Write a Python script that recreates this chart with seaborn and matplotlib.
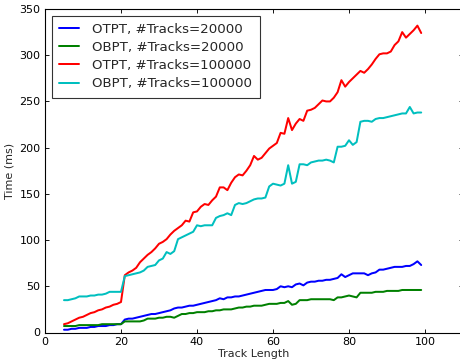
import matplotlib
matplotlib.use("Agg")
import matplotlib.pyplot as plt
import seaborn as sns
import pandas as pd

track_length = list(range(5, 100))

otpt_20000 = [3, 3, 4, 4, 5, 5, 5, 6, 6, 7, 7, 7, 8, 8, 9, 9,
              14, 15, 15, 16, 17, 18, 19, 20, 20, 21, 22, 23, 24, 26, 27, 27, 28, 29, 29, 30,
              31, 32, 33, 34, 35, 37, 36, 38, 38, 39, 39, 40, 41, 42, 43, 44, 45, 46, 46, 46,
              47, 50, 49, 50, 49, 52, 53, 51, 54, 55, 55, 56, 56, 57, 57, 58, 59, 63, 60, 62,
              64, 64, 64, 64, 62, 64, 65, 68, 68, 69, 70, 71, 71, 71, 72, 72, 74, 77, 73]

obpt_20000 = [7, 7, 7, 7, 8, 8, 8, 8, 8, 8, 9, 9, 9, 9, 9, 9,
              12, 12, 12, 12, 12, 13, 15, 15, 15, 16, 16, 17, 17, 16, 18, 20, 20, 21, 21, 22,
              22, 22, 23, 23, 24, 24, 25, 25, 25, 26, 27, 27, 28, 28, 29, 29, 29, 30, 31, 31,
              31, 32, 32, 34, 30, 31, 35, 35, 35, 36, 36, 36, 36, 36, 36, 35, 38, 38, 39, 40,
              39, 38, 43, 43, 43, 43, 44, 44, 44, 45, 45, 45, 45, 46, 46, 46, 46, 46, 46]

otpt_100000 = [9, 10, 12, 14, 16, 17, 19, 21, 22, 24, 25, 27, 28, 30, 31, 33,
               62, 65, 67, 70, 76, 80, 84, 87, 91, 96, 98, 101, 106, 110, 113, 116, 121, 120, 130, 131,
               136, 139, 138, 143, 147, 157, 157, 154, 162, 168, 171, 170, 175, 181, 191, 187, 189, 194, 199, 202,
               205, 216, 215, 232, 219, 226, 231, 229, 240, 241, 243, 247, 251, 250, 250, 254, 260, 273, 266, 271,
               275, 279, 283, 281, 285, 290, 296, 301, 302, 302, 304, 311, 315, 325, 319, 323, 327, 332, 324]

obpt_100000 = [35, 35, 36, 37, 39, 39, 39, 40, 40, 41, 41, 42, 44, 44, 44, 44,
               61, 62, 63, 64, 65, 67, 71, 72, 73, 78, 80, 87, 85, 88, 101, 103, 105, 107, 109, 116,
               115, 116, 116, 116, 124, 126, 127, 129, 127, 138, 140, 139, 140, 142, 144, 145, 145, 146, 158, 161,
               160, 159, 161, 181, 161, 163, 182, 182, 181, 184, 185, 186, 186, 187, 186, 184, 201, 201, 202, 208,
               203, 206, 228, 229, 229, 228, 231, 232, 232, 233, 234, 235, 236, 237, 237, 244, 237, 238, 238]

series_names = ["OTPT, #Tracks=20000", "OBPT, #Tracks=20000",
                "OTPT, #Tracks=100000", "OBPT, #Tracks=100000"]
series_values = [otpt_20000, obpt_20000, otpt_100000, obpt_100000]
colors = ["#0000ff", "#008000", "#ff0000", "#00bfbf"]

rows = []
for name, vals in zip(series_names, series_values):
    for x, v in zip(track_length, vals):
        rows.append({"Track Length": x, "Time (ms)": v, "series": name})
df = pd.DataFrame(rows)

sns.set_style("white", {"xtick.direction": "in", "ytick.direction": "in",
                        "axes.edgecolor": "black"})
plt.rcParams["font.family"] = ["DejaVu Sans"]

fig = plt.figure(figsize=(5.75, 4.5), dpi=80)
ax = fig.add_axes([45 / 460, 1 - 332.5 / 360, 418 / 460, 323.5 / 360])

sns.lineplot(data=df, x="Track Length", y="Time (ms)", hue="series",
             hue_order=series_names, palette=colors, linewidth=1.8, ax=ax)

ax.set_xlim(0, 110)
ax.set_ylim(0, 350)
ax.set_xticks([0, 20, 40, 60, 80, 100])
ax.set_yticks(range(0, 351, 50))
ax.tick_params(axis="both", which="major", direction="in", length=4, width=0.8,
               top=True, right=True, bottom=True, left=True, labelsize=10, pad=4,
               colors="black")
ax.set_xlabel("Track Length", fontsize=10, labelpad=2)
ax.set_ylabel("Time (ms)", fontsize=10, labelpad=4)
for s in ax.spines.values():
    s.set_color("black")
    s.set_linewidth(1.0)

leg = ax.legend(loc="upper left", fontsize=12, frameon=True, fancybox=False,
                handlelength=1.5, handletextpad=1.0, labelspacing=0.38,
                borderpad=0.55, borderaxespad=0.5)
leg.get_frame().set_edgecolor("black")
leg.get_frame().set_linewidth(1.0)
for line in leg.get_lines():
    line.set_linewidth(1.8)

fig.savefig("out.png", dpi=80)
